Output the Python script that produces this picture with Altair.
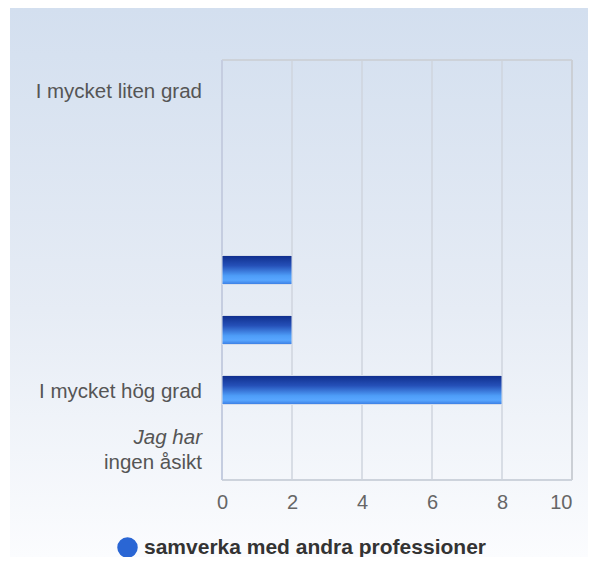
import altair as alt
import pandas as pd

# ---- data ----
row_keys = ["r1", "r2", "r3", "r4", "r5", "r6", "r7"]
row_labels = ["I mycket liten grad", "", "", "", "", "I mycket hög grad", "ingen åsikt"]
row_italic = ["", "", "", "", "", "", "Jag har"]
values = [0, 0, 0, 2, 2, 8, 0]
series_name = "samverka med andra professioner"
x_ticks = [0, 2, 4, 6, 8, 10]

df = pd.DataFrame({
    "row": row_keys,
    "label": row_labels,
    "italic": row_italic,
    "value": values,
    "series": [series_name] * len(row_keys),
})
ticks_df = pd.DataFrame({"t": x_ticks})

W, H = 350, 420
FONT = "Liberation Sans"

yscale = alt.Scale(domain=row_keys, paddingInner=0, paddingOuter=0)
xscale = alt.Scale(domain=[0, 10], nice=False)

# background gradient (decoration covering the whole chart)
bg = alt.Chart(alt.Data(values=[{}])).mark_rect(
    fill=alt.LinearGradient(
        gradient="linear", x1=0, y1=0, x2=0, y2=1,
        stops=[alt.GradientStop(offset=0, color="#d3dfef"),
               alt.GradientStop(offset=0.55, color="#e6ecf5"),
               alt.GradientStop(offset=1, color="#fbfcfe")]),
    stroke=None,
).encode(x=alt.value(-212), x2=alt.value(366), y=alt.value(-52), y2=alt.value(497))

grid = alt.Chart(ticks_df).mark_rule(color="#cfd5de", strokeWidth=1.5).encode(
    x=alt.X("t:Q", scale=xscale,
            axis=alt.Axis(values=x_ticks, grid=False, domain=False, ticks=False,
                          tickSize=0, labelFontSize=20, labelColor="#666666",
                          labelFont=FONT, labelPadding=12, labelFlush=False,
                          labelAlign=alt.ConditionalAxisLabelAlign(
                              condition={"test": "datum.value >= 10", "value": "right"},
                              value="center"),
                          title=None, zindex=1))
)
border_top = alt.Chart(alt.Data(values=[{}])).mark_rule(color="#cdd2d9", strokeWidth=2).encode(
    y=alt.value(0))
border_bottom = alt.Chart(alt.Data(values=[{}])).mark_rule(color="#cdd3dc", strokeWidth=2).encode(
    y=alt.value(H))
border_left = alt.Chart(alt.Data(values=[{}])).mark_rule(color="#c5cde0", strokeWidth=2).encode(
    x=alt.value(0))
border_right = alt.Chart(alt.Data(values=[{}])).mark_rule(color="#cbcfd5", strokeWidth=2).encode(
    x=alt.value(W))

bar_fill = alt.LinearGradient(
    gradient="linear", x1=0, y1=0, x2=0, y2=1,
    stops=[alt.GradientStop(offset=0, color="#0f2d8c"),
           alt.GradientStop(offset=0.35, color="#2550b8"),
           alt.GradientStop(offset=0.7, color="#4e9df8"),
           alt.GradientStop(offset=0.85, color="#58a6ff"),
           alt.GradientStop(offset=1, color="#3a7ce2")])

bars = alt.Chart(df).transform_filter("datum.value > 0").mark_bar(
    size=29, fill=bar_fill, stroke="#d6dde9", strokeWidth=1
).encode(
    x=alt.X("value:Q", scale=xscale),
    y=alt.Y("row:N", scale=yscale, axis=None, sort=row_keys),
)

legend_pts = alt.Chart(df).mark_point(filled=True, opacity=0, size=0).encode(
    x=alt.X("value:Q", scale=xscale),
    y=alt.Y("row:N", scale=yscale, axis=None, sort=row_keys),
    color=alt.Color("series:N", scale=alt.Scale(range=["#2a66d4"]),
                    legend=alt.Legend(title=None, orient="none", legendX=-105, legendY=477,
                                      symbolType="circle", symbolSize=420,
                                      symbolOpacity=1, symbolStrokeWidth=0,
                                      labelFontSize=21, labelFontWeight="bold",
                                      labelColor="#333333", labelFont=FONT,
                                      labelLimit=500, labelOffset=6, padding=0,
                                      zindex=1)),
)

labels_main = alt.Chart(df).transform_filter("datum.italic == ''").mark_text(
    align="right", baseline="middle", fontSize=20.5, font=FONT, color="#555555", dy=2
).encode(
    y=alt.Y("row:N", scale=yscale, axis=None, sort=row_keys),
    x=alt.value(-20),
    text="label:N",
)
labels_second = alt.Chart(df).transform_filter("datum.italic != ''").mark_text(
    align="right", baseline="middle", fontSize=20.5, font=FONT, color="#555555", dy=13
).encode(
    y=alt.Y("row:N", scale=yscale, axis=None, sort=row_keys),
    x=alt.value(-20),
    text="label:N",
)
labels_italic = alt.Chart(df).transform_filter("datum.italic != ''").mark_text(
    align="right", baseline="middle", fontSize=20.5, font=FONT, color="#555555",
    fontStyle="italic", dy=-12
).encode(
    y=alt.Y("row:N", scale=yscale, axis=None, sort=row_keys),
    x=alt.value(-20),
    text="italic:N",
)

chart = alt.layer(
    bg, grid, border_top, border_bottom, border_left, border_right,
    bars, legend_pts, labels_main, labels_second, labels_italic
).properties(
    width=W, height=H,
    autosize=alt.AutoSizeParams(type="none"),
    padding={"left": 214, "top": 52, "right": 16, "bottom": 77},
    background="#ffffff",
).configure_view(stroke=None)

chart.save("out.html", embed_options={"renderer": "svg", "actions": False})
